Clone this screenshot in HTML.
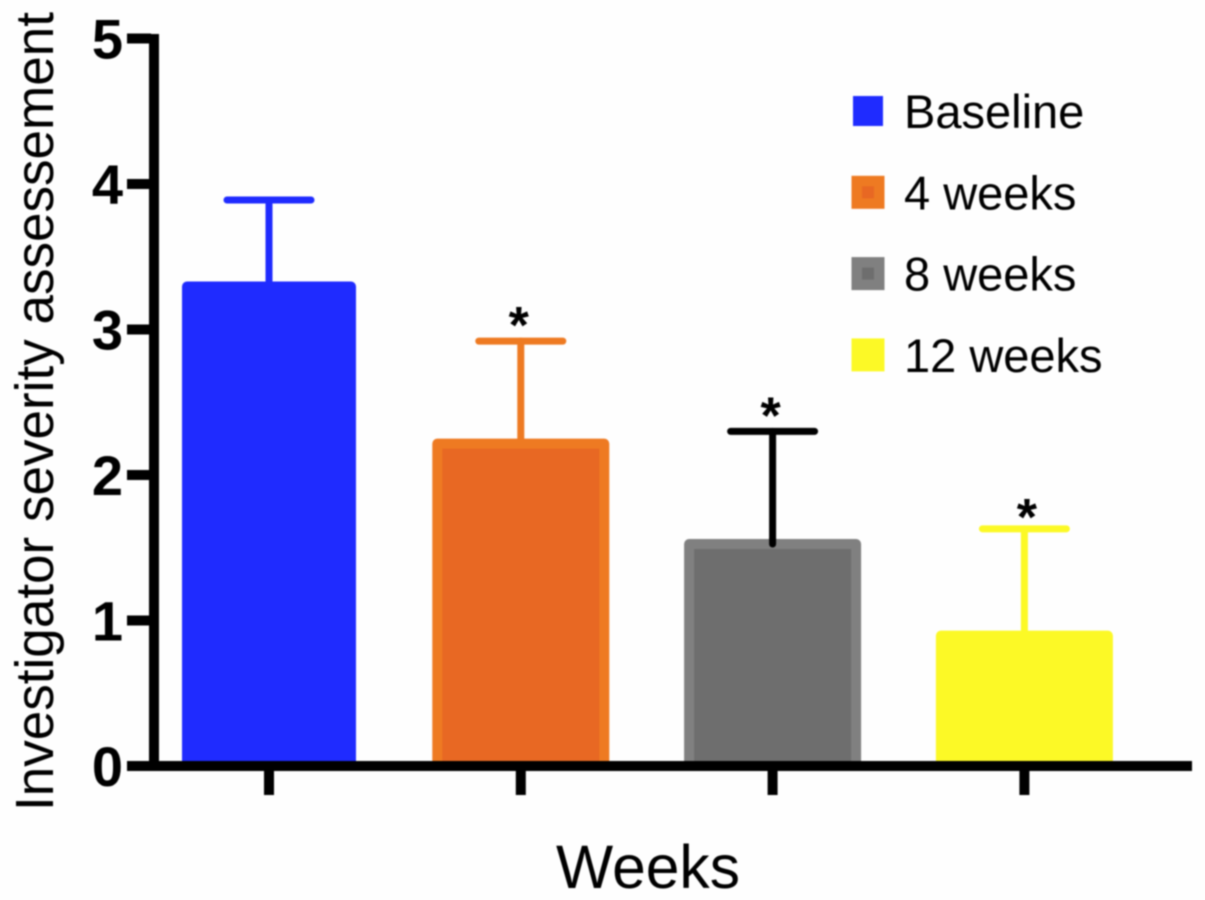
<!DOCTYPE html>
<html>
<head>
<meta charset="utf-8">
<title>Investigator severity assessement</title>
<style>
html,body{margin:0;padding:0;background:#fff;width:1205px;height:900px;overflow:hidden}
svg{display:block;filter:blur(0.8px)}
text{font-family:"Liberation Sans",sans-serif;fill:#000}
</style>
</head>
<body>
<svg id="chart" width="1205" height="900" viewBox="0 0 1205 900" xmlns="http://www.w3.org/2000/svg">
<rect x="0" y="0" width="1205" height="900" fill="#fefefe"/>
<g id="bars"></g>
<g id="axes"></g>
<g id="legend"></g>
<text transform="translate(53,811) rotate(-90)" font-size="54" textLength="799" lengthAdjust="spacingAndGlyphs">Investigator severity assessement</text>
<text x="648" y="888" font-size="61" text-anchor="middle" textLength="184" lengthAdjust="spacingAndGlyphs">Weeks</text>
</svg>
<script>
const categories = ['Baseline', '4 weeks', '8 weeks', '12 weeks'];
const means = [3.33, 2.25, 1.56, 0.93];
const errorTops = [3.89, 2.92, 2.30, 1.63];
const significant = [false, true, true, true];
const yTickLabels = [0, 1, 2, 3, 4, 5];
const outerColors = ['#1f2bff', '#ee7a22', '#808080', '#fcf926'];
const innerColors = ['#1f2bff', '#e86823', '#6e6e6e', '#fcf926'];
const errorColors = ['#1f2bff', '#ee7a22', '#000000', '#fcf926'];

const NS = 'http://www.w3.org/2000/svg';
function yScale(v) { return 766 - v * 145.5; }
function xScale(i) { return 269 + i * 251.8; }
function make(parent, tag, attrs, txt) {
  const el = document.createElementNS(NS, tag);
  for (const k in attrs) el.setAttribute(k, attrs[k]);
  if (txt !== undefined) el.textContent = txt;
  parent.appendChild(el);
  return el;
}
const barsG = document.getElementById('bars');
const axesG = document.getElementById('axes');
const legendG = document.getElementById('legend');

categories.forEach(function (cat, i) {
  const cx = xScale(i);
  const top = yScale(means[i]);
  const bottom = yScale(0);
  const errTop = yScale(errorTops[i]);
  const key = cat.toLowerCase().replace(/\s+/g, '-');
  const barW = i === 0 ? 174 : 177;

  const stem = make(barsG, 'line', {x1: cx, x2: cx, y1: errTop, y2: top + 2, stroke: errorColors[i], 'stroke-width': 7, 'stroke-linecap': 'round'});
  
  

  const cap = make(barsG, 'line', {x1: cx - 42, x2: cx + 42, y1: errTop, y2: errTop, stroke: errorColors[i], 'stroke-width': 7, 'stroke-linecap': 'round'});
  
  

  const bar = make(barsG, 'rect', {x: cx - barW / 2 + 5, y: top + 5, width: barW - 10, height: Math.max(0, bottom - top - 5), fill: innerColors[i], stroke: outerColors[i], 'stroke-width': 10, 'stroke-linejoin': 'round'});
  
  

  if (i === 2) {
    const overlap = make(barsG, 'line', {x1: cx, x2: cx, y1: top, y2: top + 5, stroke: errorColors[i], 'stroke-width': 7, 'stroke-linecap': 'round'});
    
    
  }

  if (significant[i]) {
    const star = make(barsG, 'text', {x: cx + (i === 3 ? 2.5 : -2), y: errTop + (i === 3 ? 6 : 2), 'font-size': 52, 'font-weight': 'bold', 'text-anchor': 'middle'}, '*');
    
    
  }

  const tick = make(axesG, 'rect', {x: cx - 5, y: 771, width: 10, height: 24, fill: '#000'});
  
  

  const ly = 111 + i * 81.3;
  const size = i === 0 ? 30 : 33;
  const sw = make(legendG, 'rect', {x: 868 - size / 2, y: ly - size / 2, width: size, height: size, fill: outerColors[i]});
  
  
  const swInner = make(legendG, 'rect', {x: 862, y: ly - 6, width: 12, height: 12, fill: innerColors[i]});
  
  
  const label = make(legendG, 'text', {x: 904, y: ly + 17, 'font-size': 47}, cat);
  
  
});

const yAxis = make(axesG, 'rect', {x: 149, y: 34, width: 10, height: 737, fill: '#000'});


const xAxis = make(axesG, 'rect', {x: 127, y: 761, width: 1065, height: 10, fill: '#000'});



yTickLabels.forEach(function (v) {
  const y = yScale(v);
  const t = make(axesG, 'rect', {x: 127, y: y - 5, width: 24, height: 10, fill: '#000'});
  
  
  const lab = make(axesG, 'text', {x: 123, y: y + 20, 'font-size': 56, 'font-weight': 'bold', 'text-anchor': 'end'}, v);
  
  
});
</script>
</body>
</html>
